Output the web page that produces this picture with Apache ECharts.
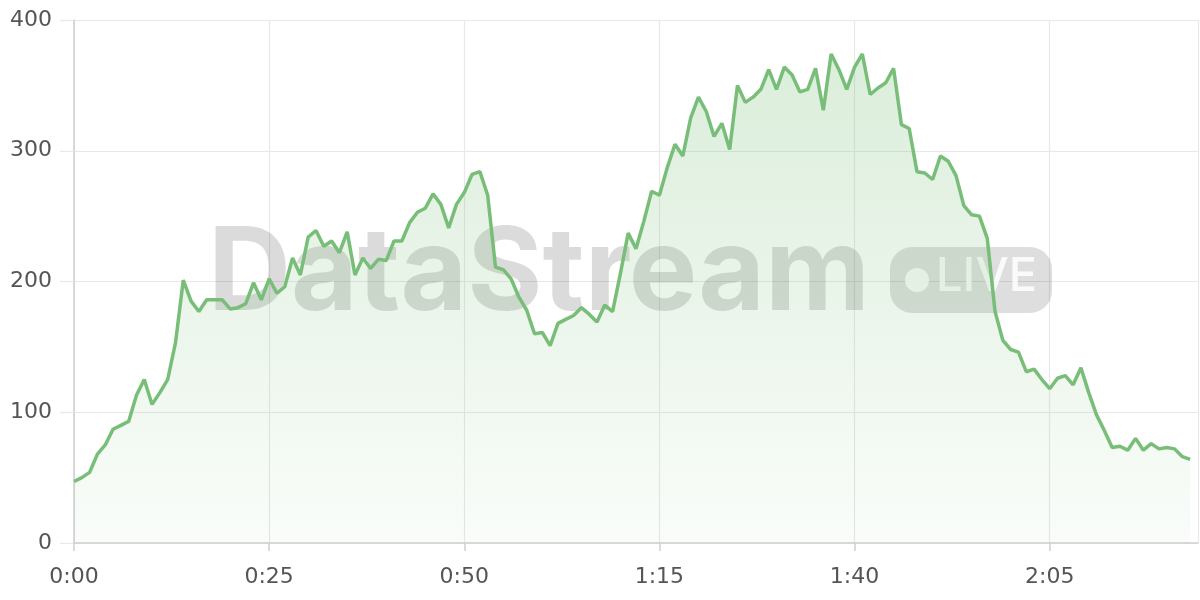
<!DOCTYPE html>
<html>
<head>
<meta charset="utf-8">
<script src="https://cdn.jsdelivr.net/npm/echarts@6/dist/echarts.min.js"></script>
<style>
html,body{margin:0;padding:0;background:#fff;}
#chart{width:1200px;height:600px;}
</style>
</head>
<body>
<div id="chart"></div>
<script>
// one value per minute, starting at 0:00
const values = [
  47, 50, 54, 68, 75, 87, 90, 93, 113, 125,
  106, 115, 125, 153, 201, 185, 177, 186, 186, 186,
  179, 180, 183, 199, 186, 202, 191, 196, 218, 205,
  234, 239, 227, 231, 222, 238, 205, 218, 210, 217,
  216, 231, 231, 245, 253, 256, 267, 259, 241, 259,
  268, 282, 284, 266, 211, 209, 202, 188, 178, 160,
  161, 151, 168, 171, 174, 180, 175, 169, 182, 177,
  206, 237, 225, 246, 269, 266, 287, 305, 296, 325,
  341, 330, 311, 321, 301, 350, 337, 341, 347, 362,
  347, 364, 358, 345, 347, 363, 331, 374, 362, 347,
  364, 374, 343, 348, 352, 363, 320, 317, 284, 283,
  278, 296, 292, 281, 258, 251, 250, 233, 177, 155,
  148, 146, 131, 133, 125, 118, 126, 128, 121, 134,
  115, 98, 86, 73, 74, 71, 80, 71, 76, 72,
  73, 72, 66, 64
];
const xTicks = [0, 25, 50, 75, 100, 125];       // minutes -> 0:00 ... 2:05
const yTicks = [0, 100, 200, 300, 400];
const watermarkTitle = 'DataStream';
const watermarkBadge = 'LIVE';

function fmtTime(m) {
  const h = Math.floor(m / 60), mm = m % 60;
  return h + ':' + (mm < 10 ? '0' : '') + mm;
}

const chart = echarts.init(document.getElementById('chart'), null, {renderer: 'canvas'});
const FONT = '"DejaVu Sans", Inter, sans-serif';
const green = '#78be78';

chart.setOption({
  animation: false,
  backgroundColor: '#ffffff',
  grid: {left: 74, right: 2, top: 20, bottom: 57, containLabel: false},
  xAxis: {
    type: 'value',
    min: xTicks[0],
    max: 144,
    interval: xTicks[1] - xTicks[0],
    axisLine: {show: true, lineStyle: {color: '#cfcfcf', width: 1.5}},
    axisTick: {show: true, length: 8, lineStyle: {color: '#cfcfcf', width: 1.5}},
    splitLine: {show: true, lineStyle: {color: '#e8e8e8', width: 1.2}},
    axisLabel: {
      color: '#555', fontSize: 22, fontFamily: FONT, margin: 23,
      formatter: v => xTicks.includes(v) ? fmtTime(v) : '',
      showMaxLabel: false
    }
  },
  yAxis: {
    type: 'value',
    min: yTicks[0],
    max: yTicks[yTicks.length - 1],
    interval: yTicks[1] - yTicks[0],
    axisLine: {show: true, lineStyle: {color: '#cfcfcf', width: 1.5}},
    axisTick: {show: true, length: 14, lineStyle: {color: '#e8e8e8', width: 1.2}},
    splitLine: {show: true, lineStyle: {color: '#e8e8e8', width: 1.2}},
    axisLabel: {color: '#555', fontSize: 22, fontFamily: FONT, margin: 22}
  },
  graphic: [
    {
      type: 'text', z: 1, left: 208, top: 218,
      style: {text: watermarkTitle, font: 'bold 115px Inter, "Noto Sans", sans-serif', fill: 'rgba(0,0,0,0.14)'}
    },
    {
      type: 'rect', z: 1, shape: {x: 890, y: 247, width: 162, height: 66, r: 22},
      style: {fill: 'rgba(0,0,0,0.13)'}
    },
    {
      type: 'circle', z: 1, shape: {cx: 917, cy: 280, r: 12},
      style: {fill: 'rgba(255,255,255,0.85)'}
    },
    {
      type: 'text', z: 1, left: 936, top: 253,
      style: {text: watermarkBadge, font: '500 47px Inter, "Noto Sans", sans-serif', fill: 'rgba(255,255,255,0.85)'}
    }
  ],
  series: [{
    type: 'line',
    z: 3,
    data: values.map((v, i) => [i, v]),
    showSymbol: false,
    symbol: 'none',
    smooth: false,
    lineStyle: {color: green, width: 3.5},
    areaStyle: {
      color: new echarts.graphic.LinearGradient(0, 0, 0, 1, [
        {offset: 0, color: 'rgba(120,190,120,0.38)'},
        {offset: 1, color: 'rgba(120,190,120,0.06)'}
      ])
    }
  }]
});
</script>
</body>
</html>
